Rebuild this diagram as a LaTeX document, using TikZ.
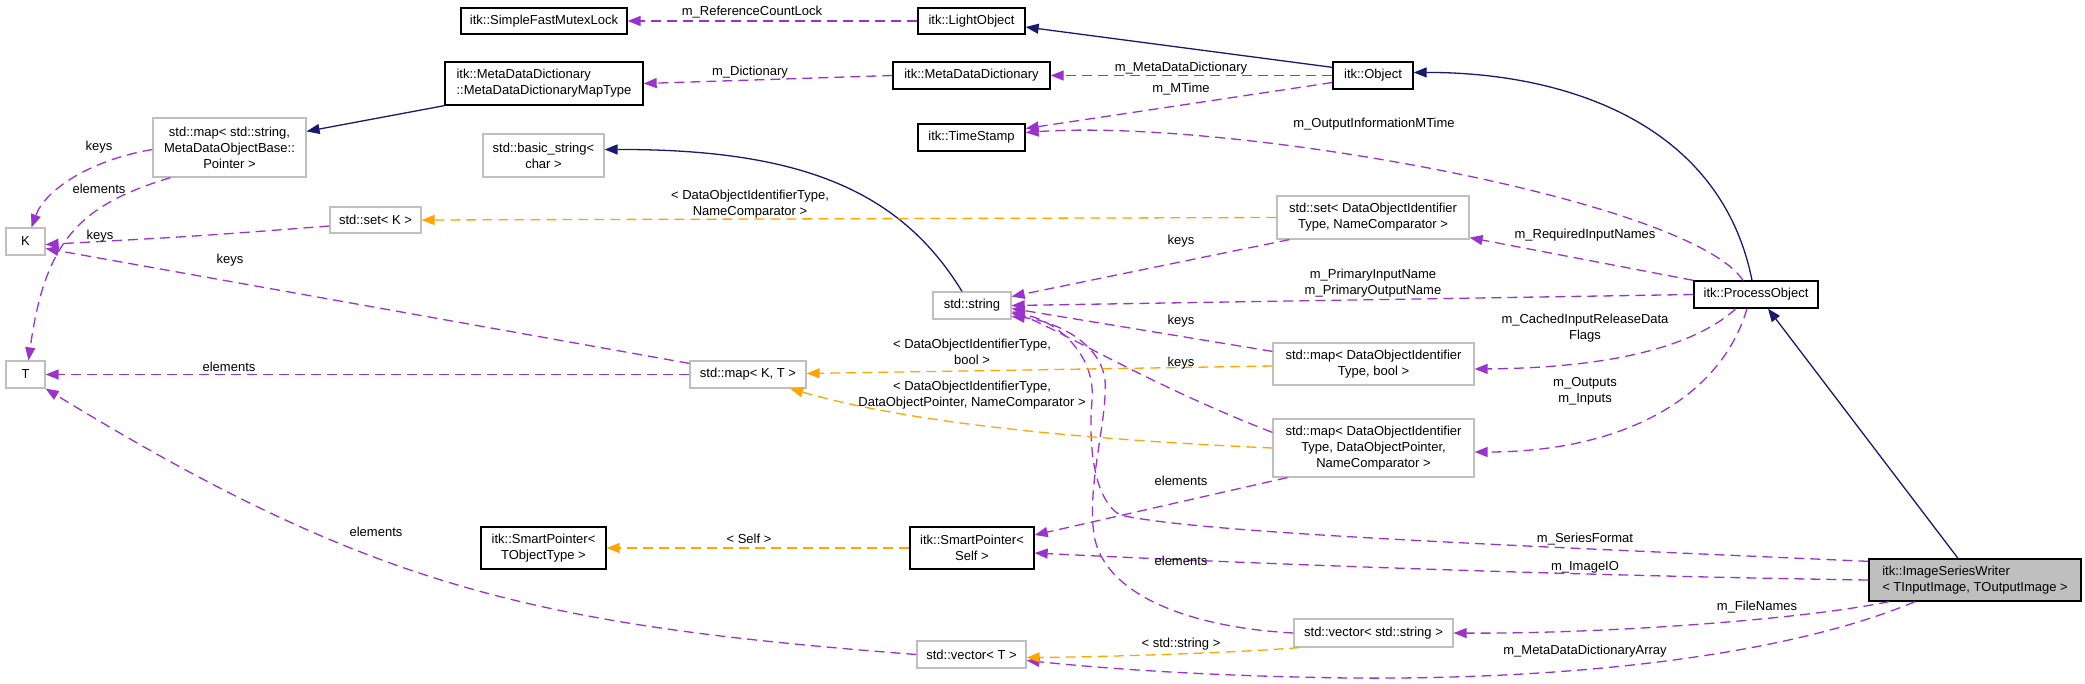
\documentclass[tikz,border=0pt]{standalone}
\usepackage{fontspec}
\setmainfont{Liberation Sans}
\usetikzlibrary{arrows.meta}

\definecolor{memberpurple}{HTML}{9A32CD}
\definecolor{tmplorange}{HTML}{FFA500}
\definecolor{inheritblue}{HTML}{191970}
\definecolor{undocgray}{HTML}{BFBFBF}

\begin{document}
\begin{tikzpicture}[
  x=1pt, y=-1pt,
  every node/.style={font=\fontsize{13}{16}\selectfont},
  cls/.style={rectangle, draw=black, line width=1.3pt, fill=white, inner sep=0pt, align=center},
  undoc/.style={cls, draw=undocgray, line width=1.2pt},
  lbl/.style={inner sep=0pt, align=center},
  member/.style={-{Triangle[length=13pt,width=10pt]}, draw=memberpurple, line width=1.3pt, dash pattern=on 10pt off 6pt},
  tmpl/.style={member, draw=tmplorange},
  inherit/.style={-{Triangle[length=13pt,width=10pt]}, draw=inheritblue, line width=1.3pt}
]
\useasboundingbox (0,0) rectangle (2085,683);

% Classes
\node[cls, minimum width=166pt, minimum height=26pt] (mutex) at (544,21) {itk::SimpleFastMutexLock};
\node[cls, minimum width=198pt, minimum height=43pt, align=left] (maptype) at (544,83.5) {itk::MetaDataDictionary\\::MetaDataDictionaryMapType};
\node[undoc, minimum width=153pt, minimum height=59pt] (strmap) at (229.5,147.5) {std::map< std::string,\\MetaDataObjectBase::\\Pointer >};
\node[undoc, minimum width=121pt, minimum height=43pt] (basicstr) at (543.5,155.5) {std::basic\_string<\\char >};
\node[undoc, minimum width=91pt, minimum height=26pt] (setk) at (375.5,220) {std::set< K >};
\node[undoc, minimum width=39pt, minimum height=27pt] (K) at (25.5,241.5) {K};
\node[undoc, minimum width=39pt, minimum height=27pt] (T) at (25.5,374.5) {T};
\node[cls, minimum width=125pt, minimum height=42pt] (sptrobj) at (543.5,548) {itk::SmartPointer<\\TObjectType >};
\node[cls, minimum width=107pt, minimum height=26pt] (lightobj) at (971.5,21) {itk::LightObject};
\node[cls, minimum width=157pt, minimum height=27pt] (mdd) at (971.5,75.5) {itk::MetaDataDictionary};
\node[cls, minimum width=107pt, minimum height=27pt] (timestamp) at (971.5,137.5) {itk::TimeStamp};
\node[cls, minimum width=80pt, minimum height=27pt] (object) at (1373,75.5) {itk::Object};
\node[undoc, minimum width=78pt, minimum height=27pt] (string) at (972,305.5) {std::string};
\node[undoc, minimum width=192pt, minimum height=43pt] (setdoi) at (1373,217.5) {std::set< DataObjectIdentifier\\Type, NameComparator >};
\node[cls, minimum width=124pt, minimum height=27pt] (processobj) at (1756,294.5) {itk::ProcessObject};
\node[undoc, minimum width=116pt, minimum height=27pt] (mapkt) at (748,374.5) {std::map< K, T >};
\node[undoc, minimum width=201pt, minimum height=42pt] (mapbool) at (1373.5,364) {std::map< DataObjectIdentifier\\Type, bool >};
\node[undoc, minimum width=201pt, minimum height=58pt] (mapdop) at (1373.5,448) {std::map< DataObjectIdentifier\\Type, DataObjectPointer,\\NameComparator >};
\node[cls, minimum width=124pt, minimum height=42pt] (sptrself) at (972,548) {itk::SmartPointer<\\Self >};
\node[undoc, minimum width=109pt, minimum height=27pt] (vectort) at (971.5,654.5) {std::vector< T >};
\node[undoc, minimum width=159pt, minimum height=28pt] (vectorstr) at (1373.5,633) {std::vector< std::string >};
\node[cls, fill=undocgray, minimum width=212pt, minimum height=42pt, align=left] (writer) at (1975,580) {itk::ImageSeriesWriter\\< TInputImage, TOutputImage >};

% Inheritance
\draw[inherit] (maptype.south west) -- ([yshift=-14pt]strmap.north east);
\draw[inherit] ([yshift=-6pt]object.north west) -- ([yshift=-6pt]lightobj.east);
\draw[inherit] ([xshift=-4pt]processobj.north) .. controls (1720,120) and (1560,72) .. ([yshift=3pt]object.east);
\draw[inherit] ([xshift=-17pt]writer.north) -- ([xshift=12pt]processobj.south);
\draw[inherit] ([xshift=-10pt]string.north) .. controls (900,190) and (800,149) .. ([yshift=6pt]basicstr.east);

% Members
\draw[member] (lightobj.west) -- (mutex.east);
\draw[member] (mdd.west) -- (maptype.east);
\draw[member] (object.west) -- (mdd.east);
\draw[member] ([yshift=-7pt]object.west) -- ([yshift=9pt]timestamp.east);
\draw[member] ([xshift=-13pt]processobj.north) .. controls (1690,200) and (1230,118) .. ([yshift=5pt]timestamp.east);
\draw[member] (processobj.north west) -- ([yshift=2pt]setdoi.south east);
\draw[member] (processobj.west) -- (string.east);
\draw[member] ([xshift=-20pt]processobj.south) .. controls (1690,350) and (1600,368) .. ([yshift=-5pt]mapbool.east);
\draw[member] ([xshift=-9pt]processobj.south) .. controls (1720,400) and (1620,452) .. ([yshift=-4pt]mapdop.east);
\draw[member] ([yshift=-3pt]writer.north west) .. controls (1500,545) and (1200,533) .. (1120,515) .. controls (1095,500) and (1088,450) .. (1092,400) .. controls (1096,350) and (1050,318) .. ([yshift=-8pt]string.east);
\draw[member] (writer.west) .. controls (1600,576) and (1300,566) .. ([yshift=-5pt]sptrself.east);
\draw[member] ([xshift=-86pt]writer.south) .. controls (1800,620) and (1600,634) .. (vectorstr.east);
\draw[member] ([xshift=-60pt]writer.south) .. controls (1800,650) and (1600,680) .. (1350,678) .. controls (1200,676) and (1100,668) .. ([yshift=-6pt]vectort.east);
\draw[member] ([xshift=13pt]setdoi.south west) -- ([yshift=9pt]string.east);
\draw[member] ([yshift=-9pt]mapbool.north west) -- ([yshift=-3pt]string.east);
\draw[member] ([yshift=-14pt]mapdop.north west) .. controls (1150,385) and (1060,330) .. ([yshift=-6pt]string.east);
\draw[member] ([xshift=15pt]mapdop.south west) -- ([yshift=13pt]sptrself.east);
\draw[member] (vectorstr.west) .. controls (1200,628) and (1110,600) .. (1095,540) .. controls (1085,490) and (1108,420) .. (1105,380) .. controls (1100,340) and (1050,320) .. ([yshift=-11pt]string.east);
\draw[member] (vectort.west) .. controls (534,625) and (372,588) .. (T.south east);
\draw[member] (mapkt.west) -- (T.east);
\draw[member] ([yshift=-3pt]mapkt.north west) -- ([yshift=-7pt]K.east);
\draw[member] ([yshift=-6pt]setk.west) .. controls (200,236) .. ([yshift=-3pt]K.east);
\draw[member] ([yshift=-2pt]strmap.west) .. controls (90,160) and (45,190) .. ([xshift=6pt]K.north);
\draw[member] ([xshift=-59pt]strmap.south) .. controls (80,205) and (45,240) .. ([xshift=3pt]T.north);

% Template arguments
\draw[tmpl] (setdoi.west) -- (setk.east);
\draw[tmpl] ([yshift=-2pt]mapbool.west) -- ([yshift=1pt]mapkt.east);
\draw[tmpl] (mapdop.west) .. controls (1050,438) and (900,420) .. ([xshift=42pt]mapkt.south);
\draw[tmpl] ([xshift=6pt]vectorstr.south west) .. controls (1233,653) and (1100,657) .. ([yshift=-3pt]vectort.east);
\draw[tmpl] (sptrself.west) -- (sptrobj.east);

% Labels
\node[lbl] (lrefcount) at (752,12) {m\_ReferenceCountLock};
\node[lbl] (ldict) at (750,72) {m\_Dictionary};
\node[lbl] (lmdd) at (1181,68) {m\_MetaDataDictionary};
\node[lbl] (lmtime) at (1181,89) {m\_MTime};
\node[lbl] (loutinfo) at (1374,124) {m\_OutputInformationMTime};
\node[lbl] (lreqnames) at (1585,235) {m\_RequiredInputNames};
\node[lbl] (lprimary) at (1373,283) {m\_PrimaryInputName\\m\_PrimaryOutputName};
\node[lbl] (lcached) at (1585,328) {m\_CachedInputReleaseData\\Flags};
\node[lbl] (linout) at (1585,391) {m\_Outputs\\m\_Inputs};
\node[lbl] (lseries) at (1585,539) {m\_SeriesFormat};
\node[lbl] (limageio) at (1585,567) {m\_ImageIO};
\node[lbl] (lfilenames) at (1757,607) {m\_FileNames};
\node[lbl] (lmddarray) at (1585,651) {m\_MetaDataDictionaryArray};
\node[lbl] (lsetargs) at (750,204) {< DataObjectIdentifierType,\\NameComparator >};
\node[lbl] (lkeysset) at (1181,241) {keys};
\node[lbl] (lkeysbool) at (1181,321) {keys};
\node[lbl] (lboolargs) at (972,352) {< DataObjectIdentifierType,\\bool >};
\node[lbl] (lkeysdop) at (1181,363) {keys};
\node[lbl] (ldopargs) at (972,395) {< DataObjectIdentifierType,\\DataObjectPointer, NameComparator >};
\node[lbl] (lelemdop) at (1181,481) {elements};
\node[lbl] (lelemvec) at (1181,561) {elements};
\node[lbl] (lvecargs) at (1181,644) {< std::string >};
\node[lbl] (lelemt) at (376,532) {elements};
\node[lbl] (lelemkt) at (229,367) {elements};
\node[lbl] (lkeyskt) at (230,260) {keys};
\node[lbl] (lkeyssetk) at (100,236) {keys};
\node[lbl] (lkeysstrmap) at (99,147) {keys};
\node[lbl] (lelemstrmap) at (99,189) {elements};
\node[lbl] (lselfargs) at (749,539) {< Self >};
\end{tikzpicture}
\end{document}
